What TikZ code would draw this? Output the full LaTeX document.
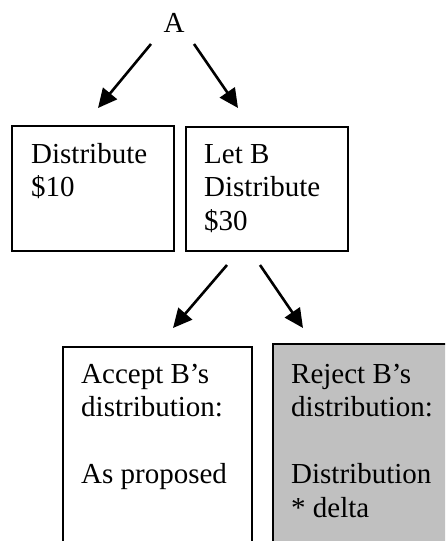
\documentclass[tikz,border=0pt]{standalone}
\usepackage{fontspec}
\setmainfont{Liberation Serif}
\usetikzlibrary{arrows.meta}
\definecolor{shade}{RGB}{192,192,192}
\tikzset{
  box/.style={draw=black, line width=2pt, rectangle, inner sep=0pt, anchor=north west},
  txt/.style={anchor=north west, inner sep=0pt, align=left,
    font=\fontsize{29}{33.5}\selectfont},
  arr/.style={line width=2.6pt, -{Triangle[length=19pt,width=18pt]}},
}
\begin{document}
\begin{tikzpicture}[x=1pt,y=-1pt]
  \useasboundingbox (0,0) rectangle (445,541);
  \clip (0,0) rectangle (445,541);
  \fill[white] (0,0) rectangle (445,541);

  % root
  \node[font=\fontsize{29}{33.5}\selectfont, inner sep=0pt, anchor=base] (A) at (174,32) {A};

  % first level boxes
  \node[box, minimum width=162pt, minimum height=125pt] (b1) at (11,125) {};
  \node[box, minimum width=162pt, minimum height=124pt] (b2) at (185,126) {};
  \node[txt] (t1) at (31,139.5) {\strut Distribute\\\$10};
  \node[txt] (t2) at (204,139.5) {\strut Let B\\Distribute\\\$30};

  % second level boxes (run past the page edge)
  \node[box, minimum width=189pt, minimum height=220pt] (b3) at (62,346) {};
  \node[box, fill=shade, minimum width=200pt, minimum height=220pt] (b4) at (272,343) {};
  \node[txt] (t3) at (81,359.5) {\strut Accept B’s\\distribution:\\[33.5pt]As proposed};
  \node[txt] (t4) at (291,359.5) {\strut Reject B’s\\distribution:\\[33.5pt]Distribution\\* delta};

  % arrow end points
  \coordinate (a1s) at (151,44);  \coordinate (a1e) at (98,108);
  \coordinate (a2s) at (194,44);  \coordinate (a2e) at (238,108);
  \coordinate (a3s) at (227,265); \coordinate (a3e) at (173,328);
  \coordinate (a4s) at (260,265); \coordinate (a4e) at (303,328);

  \draw[arr] (a1s) -- (a1e);
  \draw[arr] (a2s) -- (a2e);
  \draw[arr] (a3s) -- (a3e);
  \draw[arr] (a4s) -- (a4e);
\end{tikzpicture}
\end{document}
